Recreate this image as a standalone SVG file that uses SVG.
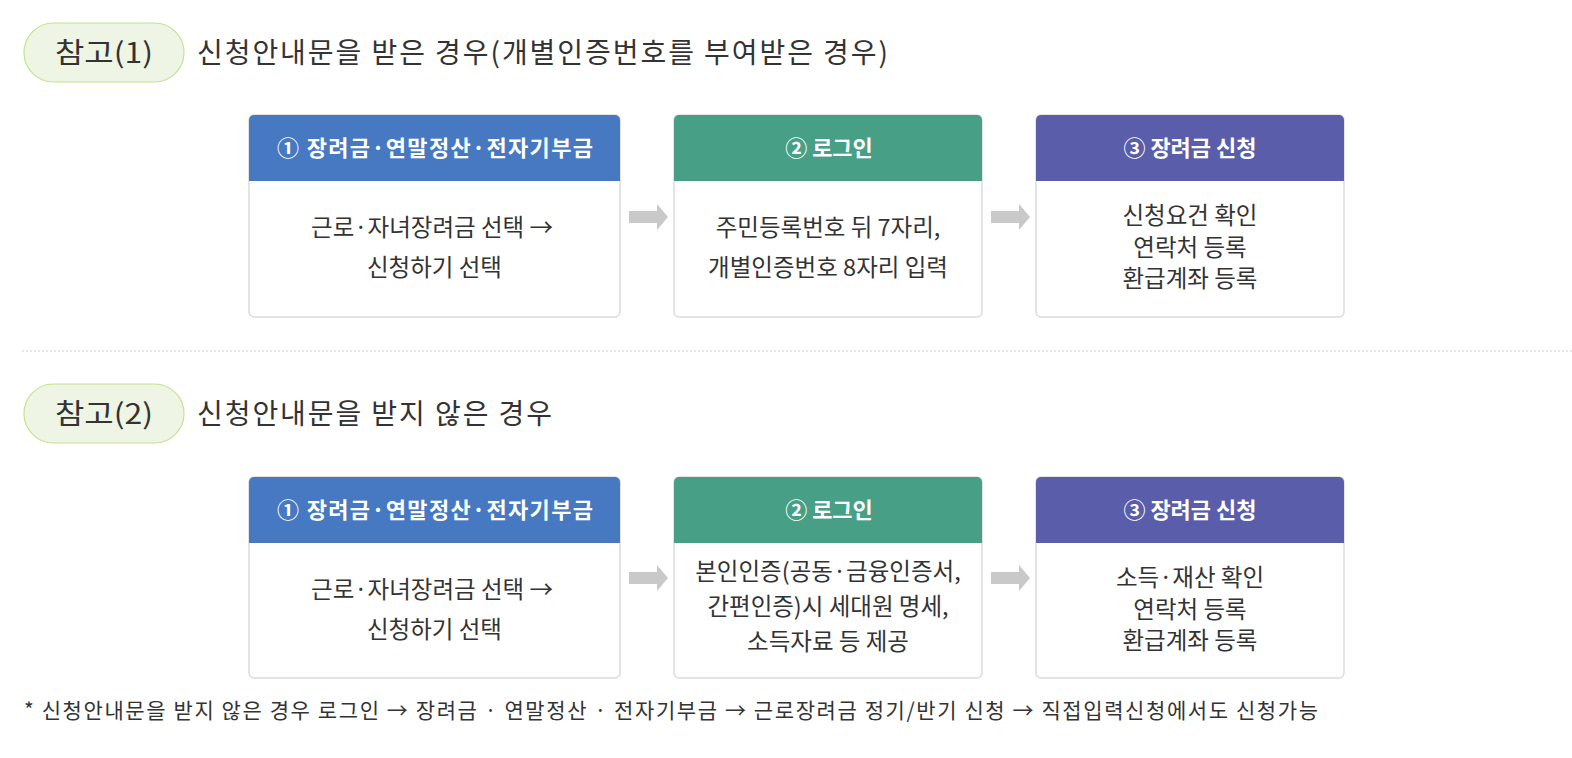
<svg xmlns="http://www.w3.org/2000/svg" width="1572" height="758" viewBox="0 0 1572 758">
<defs>
<style>
text{font-family:"Noto Sans CJK KR","Noto Sans",sans-serif;}
.pill{fill:#eef5e5;stroke:#c6e28e;stroke-width:1.2;}
.pilltxt{font-size:28px;fill:#333;}
.title{font-size:28px;fill:#333;}
.box{fill:#fff;stroke:#dcdcdc;stroke-width:1.5;}
.hd{font-size:22px;font-weight:bold;fill:#fff;text-anchor:middle;}
.body{font-size:23.5px;fill:#333;text-anchor:middle;}
.arrow{fill:#c9c9c9;}
.note{font-size:21px;fill:#333;}
.blue{fill:#4679c2;}
.green{fill:#47a085;}
.purple{fill:#5a5da9;}
</style>
<path id="arr" d="M0,-6 H28 V-13 L39,0 L28,13 V6 H0 Z"/>
</defs>
<rect width="1572" height="758" fill="#fff"/>

<g id="section1">
<g id="pill1"><rect class="pill" x="24" y="23" width="160" height="59" rx="29.5"/><text class="pilltxt" x="55" y="63" textLength="98" lengthAdjust="spacingAndGlyphs">참고(1)</text></g>
<text class="title" x="197" y="63" textLength="691" lengthAdjust="spacing">신청안내문을 받은 경우(개별인증번호를 부여받은 경우)</text>
</g>

<g id="r1n1">
<rect class="box" x="249" y="115" width="371" height="202" rx="5"/>
<path class="blue" d="M254,115 H615 A5,5 0 0 1 620,120 V181 H249 V120 A5,5 0 0 1 254,115 Z"/>
<text class="hd" x="435" y="156" textLength="316" lengthAdjust="spacing">① 장려금·연말정산·전자기부금</text>
<text class="body" x="432" y="236">근로·자녀장려금 선택 →</text>
<text class="body" x="434.5" y="276">신청하기 선택</text>
</g>
<g id="r1n2">
<rect class="box" x="674" y="115" width="308" height="202" rx="5"/>
<path class="green" d="M679,115 H977 A5,5 0 0 1 982,120 V181 H674 V120 A5,5 0 0 1 679,115 Z"/>
<text class="hd" x="829" y="156">② 로그인</text>
<text class="body" x="828" y="236">주민등록번호 뒤 7자리,</text>
<text class="body" x="828" y="276">개별인증번호 8자리 입력</text>
</g>
<g id="r1n3">
<rect class="box" x="1036" y="115" width="308" height="202" rx="5"/>
<path class="purple" d="M1041,115 H1339 A5,5 0 0 1 1344,120 V181 H1036 V120 A5,5 0 0 1 1041,115 Z"/>
<text class="hd" x="1190" y="156">③ 장려금 신청</text>
<text class="body" x="1190" y="224">신청요건 확인</text>
<text class="body" x="1190" y="255.5">연락처 등록</text>
<text class="body" x="1190" y="287">환급계좌 등록</text>
</g>

<line x1="22" y1="351" x2="1572" y2="351" stroke="#cfcfcf" stroke-width="1" stroke-dasharray="2,2"/>

<g id="section2">
<g id="pill2"><rect class="pill" x="24" y="384" width="160" height="59" rx="29.5"/><text class="pilltxt" x="55" y="424" textLength="98" lengthAdjust="spacingAndGlyphs">참고(2)</text></g>
<text class="title" x="197" y="424" textLength="355" lengthAdjust="spacing">신청안내문을 받지 않은 경우</text>
</g>

<g id="r2n1">
<rect class="box" x="249" y="477" width="371" height="201" rx="5"/>
<path class="blue" d="M254,477 H615 A5,5 0 0 1 620,482 V543 H249 V482 A5,5 0 0 1 254,477 Z"/>
<text class="hd" x="435" y="518" textLength="316" lengthAdjust="spacing">① 장려금·연말정산·전자기부금</text>
<text class="body" x="432" y="598">근로·자녀장려금 선택 →</text>
<text class="body" x="434.5" y="638">신청하기 선택</text>
</g>
<g id="r2n2">
<rect class="box" x="674" y="477" width="308" height="201" rx="5"/>
<path class="green" d="M679,477 H977 A5,5 0 0 1 982,482 V543 H674 V482 A5,5 0 0 1 679,477 Z"/>
<text class="hd" x="829" y="518">② 로그인</text>
<text class="body" x="828" y="580">본인인증(공동·금융인증서,</text>
<text class="body" x="828" y="615">간편인증)시 세대원 명세,</text>
<text class="body" x="828" y="650">소득자료 등 제공</text>
</g>
<g id="r2n3">
<rect class="box" x="1036" y="477" width="308" height="201" rx="5"/>
<path class="purple" d="M1041,477 H1339 A5,5 0 0 1 1344,482 V543 H1036 V482 A5,5 0 0 1 1041,477 Z"/>
<text class="hd" x="1190" y="518">③ 장려금 신청</text>
<text class="body" x="1190" y="586">소득·재산 확인</text>
<text class="body" x="1190" y="617.5">연락처 등록</text>
<text class="body" x="1190" y="649">환급계좌 등록</text>
</g>

<g id="connectors">
<use href="#arr" class="arrow" x="629" y="217"/>
<use href="#arr" class="arrow" x="991" y="217"/>
<use href="#arr" class="arrow" x="629" y="578"/>
<use href="#arr" class="arrow" x="991" y="578"/>
</g>

<text class="note" x="24" y="718" textLength="1294" lengthAdjust="spacing">* 신청안내문을 받지 않은 경우 로그인 → 장려금 · 연말정산 · 전자기부금 → 근로장려금 정기/반기 신청 → 직접입력신청에서도 신청가능</text>
</svg>
